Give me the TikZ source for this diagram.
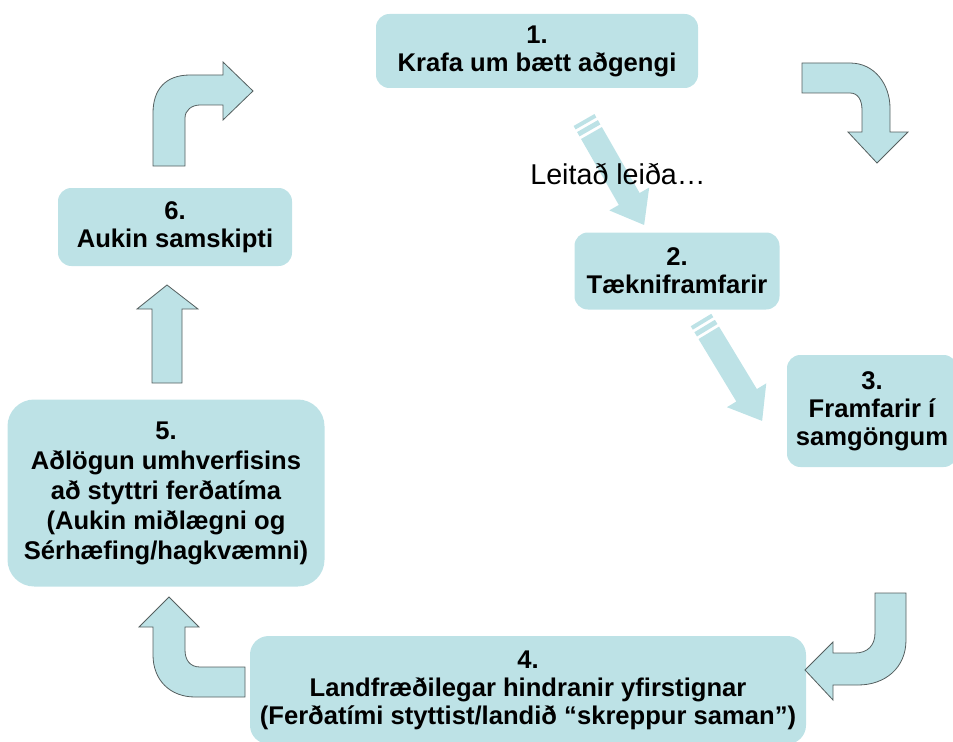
\documentclass[tikz,border=0pt]{standalone}
\usepackage{fontspec}
\setmainfont{Liberation Sans}

\definecolor{boxteal}{RGB}{189,226,230}
\definecolor{arrowedge}{RGB}{85,95,95}

\tikzset{
  stage/.style 2 args={fill=boxteal, rounded corners=10pt, align=center, inner sep=0pt,
    minimum width=#1*0.75pt, minimum height=#2*0.75pt,
    font=\bfseries\fontsize{19.2}{21}\selectfont},
  blockarrow/.style={fill=boxteal, draw=arrowedge, line width=0.6pt},
}

\begin{document}
\begin{tikzpicture}[x=0.75pt, y=-0.75pt]
    \useasboundingbox (0,0) rectangle (953,742);
    % Draw the six stages
    \node[stage={322}{74}] (demand) at (537,51) {1.\\Krafa um bætt aðgengi};
    \node[stage={205}{77}] (tech) at (677,271) {2.\\Tækniframfarir};
    \node[stage={170}{112}] (transport) at (872,411) {3.\\Framfarir í\\samgöngum};
    \node[stage={556}{108}, rounded corners=14pt] (barriers) at (528,690)
      {4.\\Landfræðilegar hindranir yfirstignar\\(Ferðatími styttist/landið “skreppur saman”)};
    \node[stage={317}{187}, rounded corners=20pt, font=\bfseries\fontsize{19.2}{22.5}\selectfont] (adapt) at (166,493)
      {5.\\Aðlögun umhverfisins\\að styttri ferðatíma\\(Aukin miðlægni og\\Sérhæfing/hagkvæmni)};
    \node[stage={234}{78}] (contact) at (175,227) {6.\\Aukin samskipti};
    % Draw the striped arrows
    \foreach \tx/\ty/\ang/\len in {584/120/-60.2/121, 701/320/-58.8/118} {
      \begin{scope}[shift={(\tx,\ty)}, rotate=\ang]
        \fill[boxteal] (0,-12) rectangle (4,12);
        \fill[boxteal] (7,-12) rectangle (12,12);
        \fill[boxteal] (15,-12) -- (\len-30,-12) -- (\len-30,-23) -- (\len,0)
          -- (\len-30,23) -- (\len-30,12) -- (15,12) -- cycle;
      \end{scope}
    }
    \node[font=\fontsize{21.5}{24}\selectfont] (search) at (618,174) {Leitað leiða…};
    % Draw the turning arrows
    \draw[blockarrow] (153,166) -- (153,113) .. controls (153,90) and (165,75) .. (190,75)
      -- (223,75) -- (223,62) -- (253,91) -- (223,120) -- (223,105) -- (200,105)
      .. controls (192,105) and (185,110) .. (185,118) -- (185,166) -- cycle;
    \draw[blockarrow] (802,63) -- (850,63) .. controls (875,63) and (890,85) .. (890,108)
      -- (890,132) -- (908,132) -- (877,163) -- (848,132) -- (862,132) -- (862,110)
      .. controls (862,100) and (858,93) .. (850,93) -- (802,93) -- cycle;
    \draw[blockarrow] (875,593) -- (906,593) -- (906,640) .. controls (906,668) and (885,685) .. (858,685)
      -- (833,685) -- (833,700) -- (805,670) -- (833,642) -- (833,653) -- (855,653)
      .. controls (868,653) and (875,645) .. (875,633) -- cycle;
    \draw[blockarrow] (245,667) -- (245,697) -- (195,697) .. controls (170,697) and (153,680) .. (153,655)
      -- (153,627) -- (139,627) -- (169,597) -- (199,627) -- (185,627) -- (185,650)
      .. controls (185,660) and (190,667) .. (200,667) -- cycle;
    % Draw the straight arrow up
    \draw[blockarrow] (152,383) -- (152,309) -- (137,309) -- (167,285) -- (198,309)
      -- (182,309) -- (182,383) -- cycle;
\end{tikzpicture}
\end{document}
